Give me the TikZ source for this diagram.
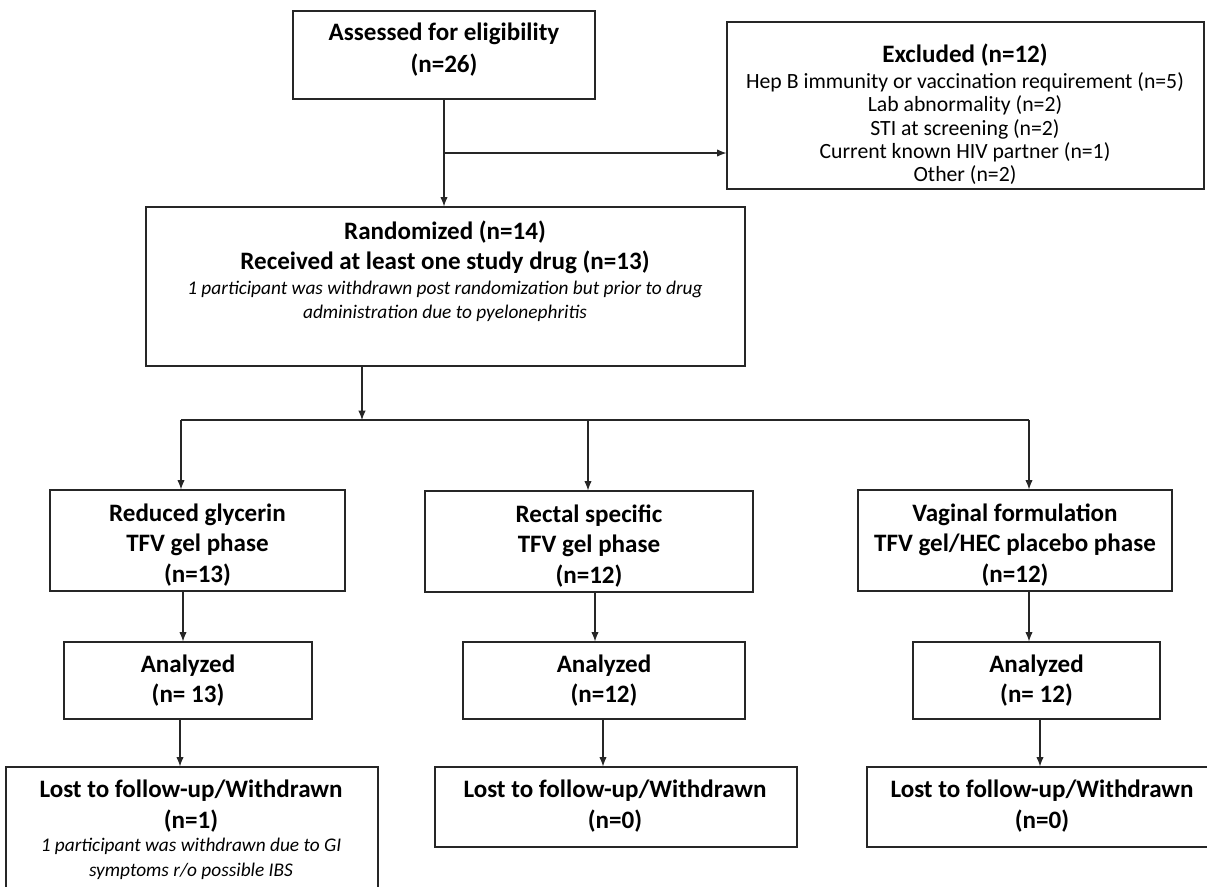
\documentclass[tikz,border=0pt]{standalone}
\usepackage{fontspec}
\setmainfont{Carlito}
\usetikzlibrary{arrows.meta,fit}
\tikzset{
  box/.style={draw=black!85, line width=0.9pt, rectangle, inner sep=0pt},
  bt/.style={font=\fontsize{18.8}{22}\selectfont\bfseries, anchor=base, inner sep=0pt},
  rt/.style={font=\fontsize{16.3}{19}\selectfont, anchor=base, inner sep=0pt},
  it/.style={font=\fontsize{14.5}{18}\selectfont\itshape, anchor=base, inner sep=0pt},
  ln/.style={draw=black!85, line width=0.8pt},
  arr/.style={ln, -{Latex[length=7pt,width=5.5pt]}}
}
\begin{document}
\begin{tikzpicture}[x=0.75pt,y=-0.75pt]
\fill[white] (0,0) rectangle (1207,886);
\useasboundingbox (0,0) rectangle (1207,886);

% boxes
\node[box, fit={(293,11) (595,99)}] (ass) {};
\node[box, fit={(727,22) (1204,189)}] (exc) {};
\node[box, fit={(146,207) (745,366)}] (rand) {};
\node[box, fit={(50,490) (345,591)}] (red) {};
\node[box, fit={(425,491) (753,592)}] (rec) {};
\node[box, fit={(858,490) (1172,591)}] (vag) {};
\node[box, fit={(64,642) (312,719)}] (anaA) {};
\node[box, fit={(463,642) (745,719)}] (anaB) {};
\node[box, fit={(913,642) (1160,719)}] (anaC) {};
\node[box, fit={(6,767) (378,895)}] (lostA) {};
\node[box, fit={(435,767) (797,847)}] (lostB) {};
\node[box, fit={(867,767) (1218,847)}] (lostC) {};

% texts
\node[bt] (ass1) at (444,40.5) {Assessed for eligibility};
\node[bt] (ass2) at (444,72.5) {(n=26)};

\node[bt] (exc1) at (965,62.5) {Excluded (n=12)};
\node[rt] (exc2) at (965,88) {Hep B immunity or vaccination requirement (n=5)};
\node[rt] (exc3) at (965,111.5) {Lab abnormality (n=2)};
\node[rt] (exc4) at (965,135) {STI at screening (n=2)};
\node[rt] (exc5) at (965,158) {Current known HIV partner (n=1)};
\node[rt] (exc6) at (965,181.5) {Other (n=2)};

\node[bt] (ran1) at (445,239.5) {Randomized (n=14)};
\node[bt] (ran2) at (445,269.5) {Received at least one study drug (n=13)};
\node[it] (ran3) at (445,294) {1 participant was withdrawn post randomization but prior to drug};
\node[it] (ran4) at (445,318) {administration due to pyelonephritis};

\node[bt] (red1) at (197.5,521.5) {Reduced glycerin};
\node[bt] (red2) at (197.5,551.5) {TFV gel phase};
\node[bt] (red3) at (197.5,582.5) {(n=13)};

\node[bt] (rec1) at (589,522.5) {Rectal specific};
\node[bt] (rec2) at (589,552.5) {TFV gel phase};
\node[bt] (rec3) at (589,583.5) {(n=12)};

\node[bt] (vag1) at (1015,521.5) {Vaginal formulation};
\node[bt] (vag2) at (1015,551.5) {TFV gel/HEC placebo phase};
\node[bt] (vag3) at (1015,582.5) {(n=12)};

\node[bt] (anaA1) at (188,672.5) {Analyzed};
\node[bt] (anaA2) at (188,702.5) {(n= 13)};
\node[bt] (anaB1) at (604,672.5) {Analyzed};
\node[bt] (anaB2) at (604,702.5) {(n=12)};
\node[bt] (anaC1) at (1036.5,672.5) {Analyzed};
\node[bt] (anaC2) at (1036.5,702.5) {(n= 12)};

\node[bt] (lostA1) at (191,797.5) {Lost to follow-up/Withdrawn};
\node[bt] (lostA2) at (191,828) {(n=1)};
\node[it] (lostA3) at (191,851) {1 participant was withdrawn due to GI};
\node[it] (lostA4) at (191,876) {symptoms r/o possible IBS};
\node[bt] (lostB1) at (615,797.5) {Lost to follow-up/Withdrawn};
\node[bt] (lostB2) at (615,828) {(n=0)};
\node[bt] (lostC1) at (1042,797.5) {Lost to follow-up/Withdrawn};
\node[bt] (lostC2) at (1042,828) {(n=0)};

% connectors
\coordinate (j1) at (444,153);
\draw[arr] (ass.south -| j1) -- (rand.north -| j1);
\draw[arr] (j1) -- (j1 -| exc.west);

\coordinate (r1) at (362,420);
\draw[arr] (rand.south -| r1) -- (r1);
\coordinate (hl) at (181,420);
\coordinate (hm) at (588,420);
\coordinate (hr) at (1029,420);
\draw[ln] (hl) -- (hr);
\draw[arr] (hl) -- (hl |- red.north);
\draw[arr] (hm) -- (hm |- rec.north);
\draw[arr] (hr) -- (hr |- vag.north);

\coordinate (c1) at (183,0);
\coordinate (c2) at (595,0);
\coordinate (c3) at (1029,0);
\draw[arr] (red.south -| c1) -- (anaA.north -| c1);
\draw[arr] (rec.south -| c2) -- (anaB.north -| c2);
\draw[arr] (vag.south -| c3) -- (anaC.north -| c3);

\coordinate (d1) at (180,0);
\coordinate (d2) at (603,0);
\coordinate (d3) at (1040,0);
\draw[arr] (anaA.south -| d1) -- (lostA.north -| d1);
\draw[arr] (anaB.south -| d2) -- (lostB.north -| d2);
\draw[arr] (anaC.south -| d3) -- (lostC.north -| d3);
\end{tikzpicture}
\end{document}
